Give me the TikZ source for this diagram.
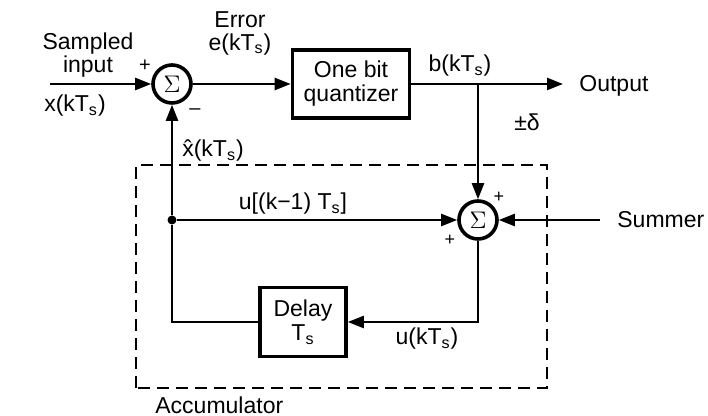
\documentclass[tikz,border=0pt]{standalone}
\usepackage{fontspec}
\setmainfont{Liberation Sans}
\usetikzlibrary{arrows.meta, positioning, calc}
\newcommand{\Tsub}{T\textsubscript{s}}
\tikzset{
    sumnode/.style={draw, circle, line width=1.8pt, minimum size=19pt, inner sep=0pt},
    blockbox/.style={draw, line width=1.8pt, align=center, inner sep=2pt},
    sigline/.style={line width=1.2pt, -{Triangle[length=8pt, width=6pt]}},
    wire/.style={line width=1.2pt},
    junction/.style={circle, fill, inner sep=0pt, minimum size=4.5pt},
    lbl/.style={inner sep=0pt, align=center, font=\fontsize{11.5}{11.5}\selectfont},
    sign/.style={inner sep=0pt, font=\small},
    accbox/.style={line width=1.2pt, dash pattern=on 6pt off 3.5pt},
}

\begin{document}
\begin{tikzpicture}[x=0.5pt, y=0.5pt, font=\fontsize{11.5}{12}\selectfont]
    \useasboundingbox (0,0) rectangle (708,416);

    \node[sumnode] (sumA) at (172,332) {\large$\Sigma$};
    \node[blockbox, minimum width=58.5pt, minimum height=34pt] (quant) at (351,332) {One bit\\quantizer};
    \node[sumnode] (sumB) at (478,196) {\large$\Sigma$};
    \node[blockbox, minimum width=43pt, minimum height=34.5pt] (delay) at (303,94) {Delay\\\Tsub};
    \node[junction] (dot) at (172,196) {};

    \coordinate (inA) at (50,332);
    \coordinate (outP) at (563,332);
    \coordinate (tap) at (478,332);
    \coordinate (summerIn) at (600,196);

    \draw[sigline] (inA) -- (sumA);
    \draw[sigline] (sumA) -- (quant);
    \draw[sigline] (quant) -- (outP);
    \draw[sigline] (tap) -- (sumB);
    \draw[sigline] (summerIn) -- (sumB);
    \draw[sigline] (dot) -- (sumB);
    \draw[sigline] (sumB) |- (delay);
    \draw[wire] (delay) -| (dot);
    \draw[sigline] (dot) -- (sumA);

    \draw[accbox] (136,28) rectangle (547,251);

    \node[lbl] (inTxt) at (88,361) {Sampled\\input};
    \node[lbl] (xTxt) at (75,310) {x(k\Tsub)};
    \node[sign, font=\normalsize] (plusA) at (145,350) {+};
    \node[sign, font=\normalsize] (minusA) at (195,304) {--};
    \node[lbl] (errTxt) at (240,383) {Error\\e(k\Tsub)};
    \node[lbl] (bTxt) at (460,350) {b(k\Tsub)};
    \node[lbl, anchor=west] (outTxt) at (579,330) {Output};
    \node[lbl] (deltaTxt) at (527,294) {±δ};
    \node[sign] (plusB) at (499,219) {+};
    \node[sign] (plusC) at (450,176) {+};
    \node[lbl, anchor=west] (summerTxt) at (617,196) {Summer};
    \node[lbl] (uPrev) at (293,212) {u[(k−1) \Tsub]};
    \node[lbl] (uCur) at (427,77) {u(k\Tsub)};
    \node[lbl] (xHat) at (213,265) {\^x(k\Tsub)};
    \node[lbl, anchor=west] (accTxt) at (155,11) {Accumulator};
\end{tikzpicture}
\end{document}
